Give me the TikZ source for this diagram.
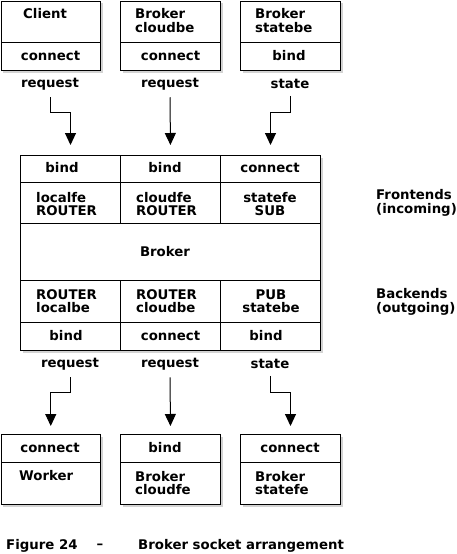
\documentclass[tikz,border=0pt]{standalone}
\usepackage{fontspec}
\setmainfont{DejaVu Sans}
\usetikzlibrary{shadows,arrows.meta,calc}
\newcommand\lblfont{\fontsize{13.3}{13.5}\selectfont\bfseries}
\begin{document}
\begin{tikzpicture}[x=1pt,y=-1pt,
  frame/.style={draw, fill=white, line width=1pt, inner sep=0pt, anchor=north west,
    drop shadow={shadow xshift=2pt, shadow yshift=-2pt, opacity=0.35}},
  cell/.style={draw, line width=1pt, inner sep=0pt, anchor=north west},
  lbl/.style={inner sep=0pt, font=\lblfont, align=center},
  lbll/.style={lbl, align=left, anchor=west},
  conn/.style={line width=1pt, -{Triangle[length=12pt,width=11pt]}}]
\useasboundingbox (0,0) rectangle (456,554);
% top boxes
\node[frame, minimum width=99.5pt, minimum height=69.5pt] (tb1) at (0.5,0.5) {};
\node[cell, minimum width=99.5pt, minimum height=28pt] (tb1c) at (0.5,42) {};
\node[lbll] (t1) at (23,14) {Client};
\node[lbl] (t1c) at (50.5,56) {connect};
\node[frame, minimum width=100pt, minimum height=69.5pt] (tb2) at (120,0.5) {};
\node[cell, minimum width=100pt, minimum height=28pt] (tb2c) at (120,42) {};
\node[lbll] (t2) at (135,20.5) {Broker\\cloudbe};
\node[lbl] (t2c) at (170.5,56) {connect};
\node[frame, minimum width=100pt, minimum height=69.5pt] (tb3) at (240,0.5) {};
\node[cell, minimum width=100pt, minimum height=28pt] (tb3c) at (240,42) {};
\node[lbll] (t3) at (255,20.5) {Broker\\statebe};
\node[lbl] (t3c) at (289,56) {bind};
\node[lbl] (rq1) at (50,84) {request};
\node[lbl] (rq2) at (170,84) {request};
\node[lbl] (st1) at (290,84) {state};
% main box
\node[frame, minimum width=300pt, minimum height=195pt] (mb) at (20,155) {};
\node[cell, minimum width=100pt, minimum height=27pt] (m11) at (20,155) {};
\node[cell, minimum width=100pt, minimum height=27pt] (m12) at (120,155) {};
\node[cell, minimum width=100pt, minimum height=27pt] (m13) at (220,155) {};
\node[cell, minimum width=100pt, minimum height=41pt] (m21) at (20,182) {};
\node[cell, minimum width=100pt, minimum height=41pt] (m22) at (120,182) {};
\node[cell, minimum width=100pt, minimum height=41pt] (m23) at (220,182) {};
\node[cell, minimum width=300pt, minimum height=57pt] (m3) at (20,223) {};
\node[cell, minimum width=100pt, minimum height=42pt] (m41) at (20,280) {};
\node[cell, minimum width=100pt, minimum height=42pt] (m42) at (120,280) {};
\node[cell, minimum width=100pt, minimum height=42pt] (m43) at (220,280) {};
\node[cell, minimum width=100pt, minimum height=28pt] (m51) at (20,322) {};
\node[cell, minimum width=100pt, minimum height=28pt] (m52) at (120,322) {};
\node[cell, minimum width=100pt, minimum height=28pt] (m53) at (220,322) {};
\node[lbl] (x11) at (62,168) {bind};
\node[lbl] (x12) at (165,168) {bind};
\node[lbl] (x13) at (270,168) {connect};
\node[lbll] (x21) at (36,204) {localfe\\ROUTER};
\node[lbll] (x22) at (136,204) {cloudfe\\ROUTER};
\node[lbl] (x23) at (270,204) {statefe\\SUB};
\node[lbl] (x3) at (165,252) {Broker};
\node[lbll] (x41) at (36,301) {ROUTER\\localbe};
\node[lbll] (x42) at (136,301) {ROUTER\\cloudbe};
\node[lbl] (x43) at (271,301) {PUB\\statebe};
\node[lbl] (x51) at (66,336) {bind};
\node[lbl] (x52) at (170.5,336) {connect};
\node[lbl] (x53) at (266,336) {bind};
\node[lbll] (fe) at (376,203) {Frontends\\(incoming)};
\node[lbll] (be) at (376,302) {Backends\\(outgoing)};
% bottom
\node[lbl] (rq4) at (70,364) {request};
\node[lbl] (rq5) at (170,364) {request};
\node[lbl] (st2) at (270,364) {state};
\node[frame, minimum width=99.5pt, minimum height=70pt] (bb1) at (0.5,434) {};
\node[cell, minimum width=99.5pt, minimum height=28pt] (bb1t) at (0.5,434) {};
\node[lbl] (b1t) at (50,448) {connect};
\node[lbll] (b1) at (19,476) {Worker};
\node[frame, minimum width=100pt, minimum height=70pt] (bb2) at (120,434) {};
\node[cell, minimum width=100pt, minimum height=28pt] (bb2t) at (120,434) {};
\node[lbl] (b2t) at (165,448) {bind};
\node[lbll] (b2) at (135,483) {Broker\\cloudfe};
\node[frame, minimum width=100pt, minimum height=70pt] (bb3) at (240,434) {};
\node[cell, minimum width=100pt, minimum height=28pt] (bb3t) at (240,434) {};
\node[lbl] (b3t) at (290,448) {connect};
\node[lbll] (b3) at (255,483) {Broker\\statefe};
% caption
\node[lbll] (cap1) at (6,546) {Figure 24};
\node[lbl] (cap2) at (100,546) {–};
\node[lbll] (cap3) at (138,546) {Broker socket arrangement};
% connectors
\coordinate (k1) at (0,112);
\coordinate (k4) at (0,392);
\draw[conn, shorten <=7pt, shorten >=10pt] (rq1.south) -- (rq1.south |- k1) -| (m11.north);
\draw[conn, shorten <=7pt, shorten >=10pt] (rq2.south) -- (m12.north);
\draw[conn, shorten <=7pt, shorten >=10pt] (st1.south) -- (st1.south |- k1) -| (m13.north);
\draw[conn, shorten <=7pt, shorten >=8pt] (rq4.south) -- (rq4.south |- k4) -| (bb1.north);
\draw[conn, shorten <=7pt, shorten >=8pt] (rq5.south) -- (bb2.north);
\draw[conn, shorten <=7pt, shorten >=8pt] (st2.south) -- (st2.south |- k4) -| (bb3.north);
\end{tikzpicture}
\end{document}
